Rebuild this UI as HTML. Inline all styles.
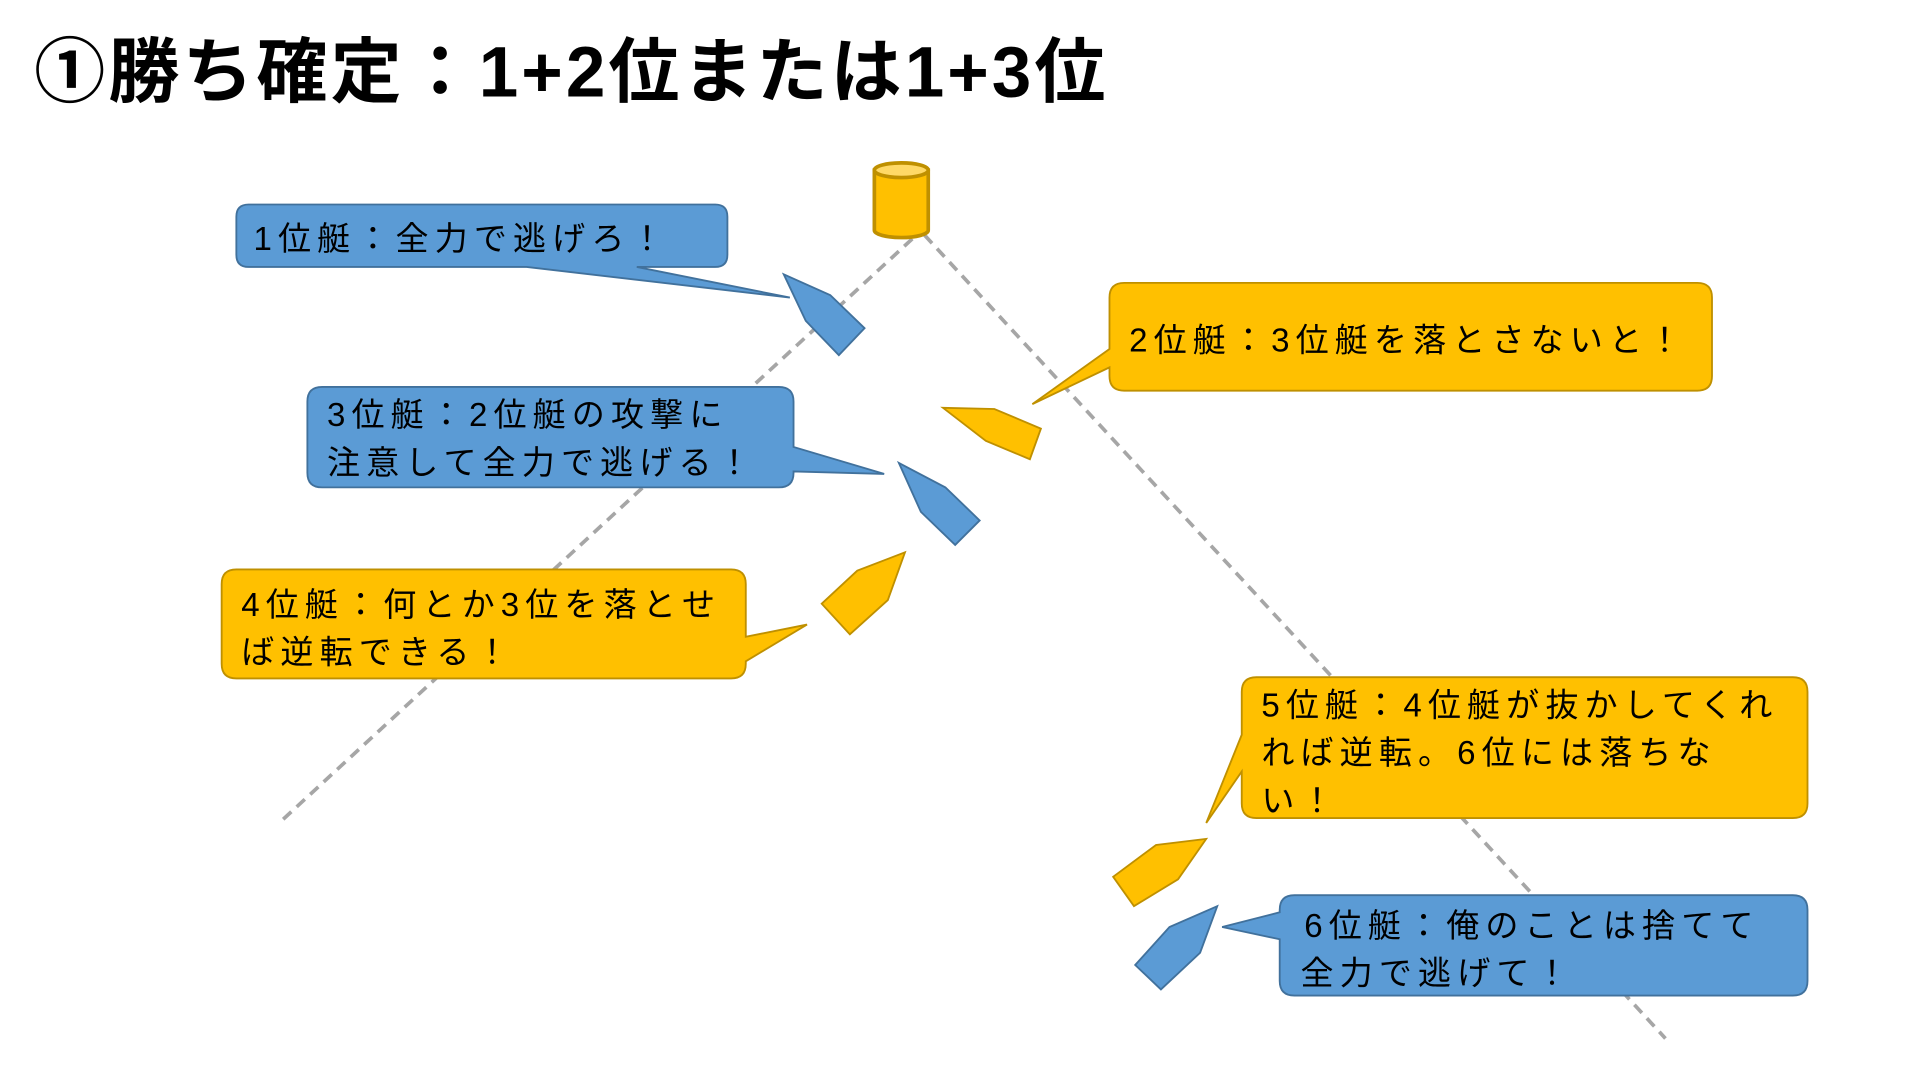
<!DOCTYPE html>
<html><head><meta charset="utf-8"><style>
html,body{margin:0;padding:0;background:#fff;width:1920px;height:1080px;overflow:hidden}
#w{position:absolute;left:0;top:0;width:1560px;height:878px;transform:scale(1.2246);transform-origin:0 0}
svg{position:absolute;left:0;top:0}
.t{font-family:"Liberation Sans","Noto Sans CJK JP",sans-serif;}
</style></head><body><div id="w">
<svg width="1560" height="878" viewBox="0 0 1560 878">
<text x="28" y="79" class="t" font-size="58" font-weight="bold" fill="#000" letter-spacing="2.5">①勝ち確定：1+2位または1+3位</text>
<g stroke="#A6A6A6" stroke-width="3" stroke-dasharray="9,6" fill="none">
<line x1="745" y1="195" x2="228" y2="672"/>
<line x1="755" y1="192" x2="1360" y2="848"/>
</g>
<path d="M714,139 L714,188 A22,6 0 0 0 758,188 L758,139 Z" fill="#FFC000" stroke="#BF9000" stroke-width="3"/>
<ellipse cx="736" cy="139" rx="22" ry="6" fill="#FFD966" stroke="#BF9000" stroke-width="3"/>
<g stroke-width="1.5">
<path d="M203,167 H584 Q594,167 594,177 V208 Q594,218 584,218 H520 L645,243 L430,218 H203 Q193,218 193,208 V177 Q193,167 203,167 Z" fill="#5B9BD5" stroke="#41719C"/>
<polygon points="640,224 678,241 706,268 685,290 658,262" fill="#5B9BD5" stroke="#41719C"/>
<path d="M918,231 H1386 Q1398,231 1398,243 V307 Q1398,319 1386,319 H918 Q906,319 906,307 V300 L843,330 L906,285 V243 Q906,231 918,231 Z" fill="#FFC000" stroke="#BF9000"/>
<polygon points="770,333 812,334 850,350 841,375 805,360" fill="#FFC000" stroke="#BF9000"/>
<path d="M263,316 H636 Q648,316 648,328 V365 L722,387 L648,385 V386 Q648,398 636,398 H263 Q251,398 251,386 V328 Q251,316 263,316 Z" fill="#5B9BD5" stroke="#41719C"/>
<polygon points="734,378 772,398 800,425 780,445 752,418" fill="#5B9BD5" stroke="#41719C"/>
<path d="M193,465 H597 Q609,465 609,477 V520 L659,510 L609,540 V542 Q609,554 597,554 H193 Q181,554 181,542 V477 Q181,465 193,465 Z" fill="#FFC000" stroke="#BF9000"/>
<polygon points="739,451 725,490 694,518 671,493 700,466" fill="#FFC000" stroke="#BF9000"/>
<path d="M1026,553 H1464 Q1476,553 1476,565 V656 Q1476,668 1464,668 H1026 Q1014,668 1014,656 V630 L985,672 L1014,600 V565 Q1014,553 1026,553 Z" fill="#FFC000" stroke="#BF9000"/>
<polygon points="985,685 962,718 926,740 909,716 944,690" fill="#FFC000" stroke="#BF9000"/>
<path d="M1057,731 H1464 Q1476,731 1476,743 V801 Q1476,813 1464,813 H1057 Q1045,813 1045,801 V767 L998,757 L1045,745 V743 Q1045,731 1057,731 Z" fill="#5B9BD5" stroke="#41719C"/>
<polygon points="994,740 980,778 948,808 927,788 955,757" fill="#5B9BD5" stroke="#41719C"/>
</g>
<g class="t" font-size="27" fill="#000" letter-spacing="5">
<text x="207" y="204">1位艇：全力で逃げろ！</text>
<text x="922" y="287">2位艇：3位艇を落とさないと！</text>
<text x="267" y="348">3位艇：2位艇の攻撃に</text>
<text x="267" y="387">注意して全力で逃げる！</text>
<text x="197" y="503">4位艇：何とか3位を落とせ</text>
<text x="197" y="542">ば逆転できる！</text>
<text x="1030" y="585">5位艇：4位艇が抜かしてくれ</text>
<text x="1030" y="624">れば逆転。6位には落ちな</text>
<text x="1030" y="663">い！</text>
<text x="1065" y="765">6位艇：俺のことは捨てて</text>
<text x="1062" y="804">全力で逃げて！</text>
</g>
</svg>
</div></body></html>
